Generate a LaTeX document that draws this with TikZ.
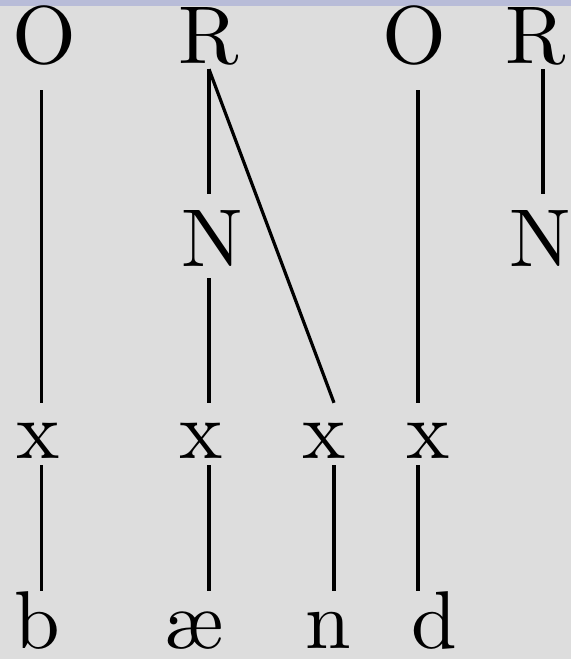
\documentclass[tikz,border=0pt]{standalone}
\usepackage{fontspec}
\newfontfamily\treefont{lmroman10-regular.otf}
\definecolor{panel}{RGB}{221,221,221}
\definecolor{strip}{RGB}{184,188,216}
% shift a glyph sideways inside its node, keeping the node's width
\newcommand\nudge[2]{\kern#1#2\kern-#1}

\begin{document}
\begin{tikzpicture}[x=1pt,y=-1pt,
  every node/.style={inner sep=0pt, anchor=base, font=\treefont\fontsize{82}{100}\selectfont},
  onset/.style={text height=57pt, text depth=27pt},
  rime/.style={text height=57pt, text depth=6pt},
  nuc/.style={text height=72pt, text depth=12pt},
  slot/.style={text height=55pt, text depth=7pt},
  seg/.style={text height=57pt, text depth=0pt},
  link/.style={line width=3.2pt}]
  \useasboundingbox (0,0) rectangle (571,659);
  \fill[panel] (0,0) rectangle (571,659);
  \fill[strip] (0,0) rectangle (571,6);

  % syllable tier
  \node[onset] (o1) at (41.7,63) {\nudge{3pt}{O}};
  \node[rime]  (r1) at (209,63)  {R};
  \node[onset] (o2) at (418,63)  {\nudge{-4pt}{O}};
  \node[rime]  (r2) at (543,63)  {\nudge{-7pt}{R}};

  % nuclei
  \node[nuc] (n1) at (209,266) {\nudge{3pt}{N}};
  \node[nuc] (n2) at (543,266) {\nudge{-3pt}{N}};

  % skeleton
  \node[slot] (x1) at (41.7,458) {\nudge{-4pt}{x}};
  \node[slot] (x2) at (209,458)  {\nudge{-8pt}{x}};
  \node[slot] (x3) at (334,458)  {\nudge{-9.5pt}{x}};
  \node[slot] (x4) at (418,458)  {\nudge{10.5pt}{x}};

  % segments
  \node[seg] (sb)  at (41.7,648) {\nudge{-4pt}{b}};
  \node[seg] (sae) at (209,648)  {\nudge{-15pt}{æ}};
  \node[seg] (sn)  at (334,648)  {\nudge{-5.5pt}{n}};
  \node[seg] (sd)  at (418,648)  {\nudge{16.5pt}{d}};

  \draw[link] (o1) -- (x1);
  \draw[link] (r1) -- (n1);
  \draw[link] (n1) -- (x2);
  \draw[link] (r1.south) -- (x3.north);
  \draw[link] (o2) -- (x4);
  \draw[link] (r2) -- (n2);
  \foreach \a/\b in {x1/sb, x2/sae, x3/sn, x4/sd}
    \draw[link] (\a) -- (\b);
\end{tikzpicture}
\end{document}
